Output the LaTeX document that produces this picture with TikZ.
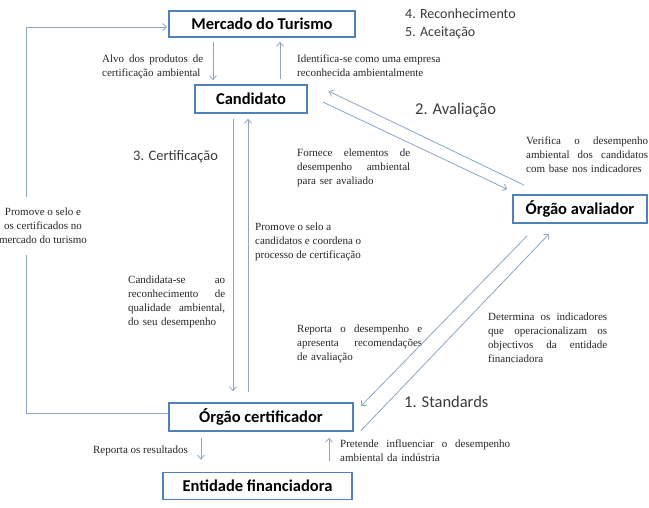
\documentclass[tikz,border=0pt]{standalone}
\usepackage{fontspec}
\setmainfont{Liberation Serif}
\newfontfamily\boxfont{Carlito}
\usetikzlibrary{arrows.meta}
\definecolor{boxblue}{RGB}{79,129,189}
\definecolor{arrblue}{RGB}{140,165,195}
\definecolor{labgray}{RGB}{58,58,58}
\newlength{\notew}
\newcommand{\jl}[1]{{\spaceskip=0pt\xspaceskip=0pt\makebox[\notew][s]{#1}}}
\tikzset{
 entity/.style={draw=boxblue,line width=1.6pt,fill=white,inner sep=0pt,font=\boxfont\bfseries\fontsize{16.5}{19}\selectfont},
 note/.style={font=\fontsize{11}{14}\selectfont,align=left,inner sep=0pt,anchor=north west,text=black!85},
 jnote/.style={note,text width=#1,/utils/exec={\setlength{\notew}{#1}}},
 phase/.style={font=\boxfont\fontsize{#1}{18}\selectfont,text=labgray,anchor=west,inner sep=0pt},
 flow/.style={draw=arrblue,line width=0.8pt,-{Straight Barb[length=4pt,width=7pt]}},
}
\begin{document}
\begin{tikzpicture}[x=1pt,y=-1pt]
 \useasboundingbox (0,0) rectangle (649,507);
 \node[entity,minimum width=186pt,minimum height=26pt] (mercado) at (262,24) {Mercado do Turismo};
 \node[entity,minimum width=112pt,minimum height=28pt] (candidato) at (251,99) {Candidato};
 \node[entity,minimum width=134pt,minimum height=28pt] (avaliador) at (580,209) {Órgão avaliador};
 \node[entity,minimum width=184pt,minimum height=28pt] (certif) at (261,417) {Órgão certificador};
 \node[entity,minimum width=189pt,minimum height=27pt] (entidade) at (257.5,486) {Entidade financiadora};

 \node[phase=14] (reconh) at (405,14) {4. Reconhecimento};
 \node[phase=14] (aceit) at (405,33) {5. Aceitação};
 \node[phase=16.5] (aval) at (415,110) {2. Avaliação};
 \node[phase=14.5] (certlab) at (133,157) {3. Certificação};
 \node[phase=16.5] (stand) at (404,402) {1. Standards};

 \node[jnote=101pt] (alvo) at (102,55) {\jl{Alvo dos produtos de}\\certificação ambiental};
 \node[note] (ident) at (297,55) {Identifica-se como uma empresa\\reconhecida ambientalmente};
 \node[jnote=113pt] (fornece) at (297,149) {\jl{Fornece elementos de}\\\jl{desempenho ambiental}\\para ser avaliado};
 \node[jnote=122pt] (verifica) at (526,137) {\jl{Verifica o desempenho}\\\jl{ambiental dos candidatos}\\com base nos indicadores};
 \node[note] (promsel) at (255,223) {Promove o selo a\\candidatos e coordena o\\processo de certificação};
 \node[jnote=97pt] (candid) at (128,276) {\jl{Candidata-se ao}\\\jl{reconhecimento de}\\\jl{qualidade ambiental,}\\do seu desempenho};
 \node[jnote=125pt] (reporta) at (297,325) {\jl{Reporta o desempenho e}\\\jl{apresenta recomendações}\\de avaliação};
 \node[jnote=119pt] (determ) at (488,313) {\jl{Determina os indicadores}\\\jl{que operacionalizam os}\\\jl{objectivos da entidade}\\financiadora};
 \node[note,anchor=east] (result) at (188,451) {Reporta os resultados};
 \node[jnote=170pt] (pretende) at (340,440) {\jl{Pretende influenciar o desempenho}\\ambiental da indústria};
 \node[note,anchor=center,align=center] (promloop) at (43,226) {Promove o selo e\\os certificados no\\mercado do turismo};

 \coordinate (loopb) at (26,255); \coordinate (loopt) at (26,197);
 \draw[flow,-] ([yshift=4pt]certif.west) -| (loopb);
 \draw[flow,shorten >=1pt] (loopt) |- ([yshift=-3pt]mercado.west);
 \draw[flow,shorten <=4pt,shorten >=4pt] ([xshift=-49pt]mercado.south) -- ([xshift=-38pt]candidato.north);
 \draw[flow,shorten <=5pt,shorten >=4pt] ([xshift=29pt]candidato.north) -- ([xshift=18pt]mercado.south);
 \draw[flow] ([shift={(12pt,9pt)}]avaliador.north west) -- ([shift={(21pt,-7pt)}]candidato.north east);
 \draw[flow] ([shift={(15pt,-3pt)}]candidato.east) -- ([shift={(-5pt,5pt)}]avaliador.north west);
 \draw[flow] ([shift={(15pt,-12pt)}]avaliador.south west) -- ([shift={(7pt,-4pt)}]certif.north east);
 \draw[flow] ([shift={(7pt,1pt)}]certif.south east) -- ([shift={(37pt,-10pt)}]avaliador.south west);
 \draw[flow,shorten <=5pt,shorten >=11pt] ([xshift=-18pt]candidato.south) -- ([xshift=-28pt]certif.north);
 \draw[flow,shorten <=10pt,shorten >=5pt] ([xshift=-13pt]certif.north) -- ([xshift=-3pt]candidato.south);
 \draw[flow,shorten <=6pt,shorten >=12pt] ([xshift=-60pt]certif.south) -- ([xshift=-56.5pt]entidade.north);
 \draw[flow,shorten <=11pt,shorten >=6pt] ([xshift=71.5pt]entidade.north) -- ([xshift=68pt]certif.south);
\end{tikzpicture}
\end{document}
